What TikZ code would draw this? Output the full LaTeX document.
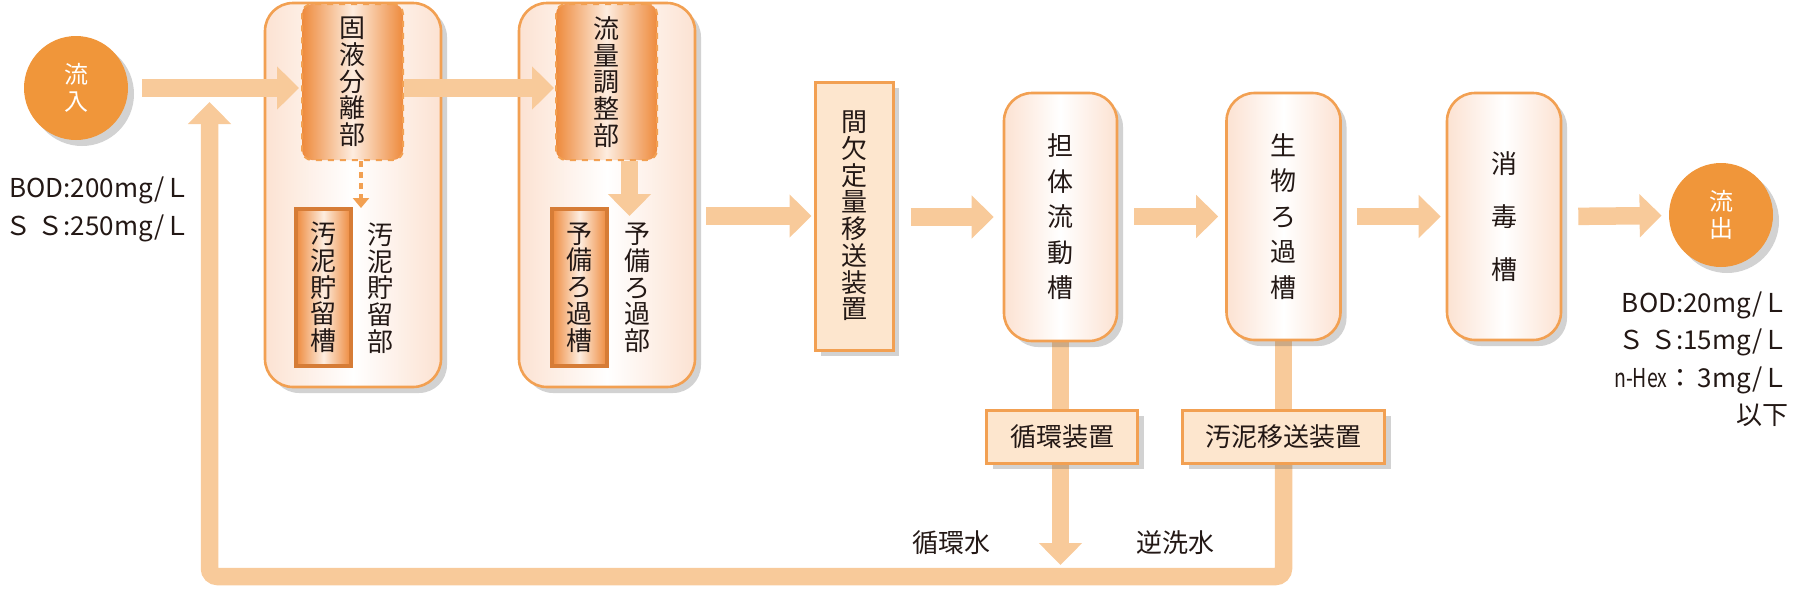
\documentclass[tikz,border=0pt]{standalone}
\usepackage{fontspec}
\setmainfont{Noto Sans CJK JP}
\usepackage{tikz}
\usetikzlibrary{arrows.meta,shadows,backgrounds}
\definecolor{ink}{HTML}{231815}
\definecolor{portfill}{HTML}{F0963A}
\definecolor{flowc}{HTML}{F8CA9A}
\definecolor{orangeline}{HTML}{F2A052}
\definecolor{deep}{HTML}{EE8A3C}
\definecolor{pale}{HTML}{FDEDE0}
\definecolor{peach}{HTML}{FCE2D2}
\definecolor{flat}{HTML}{FDE6CE}
\newcommand{\tightfont}{\fontsize{13pt}{13.35pt}\selectfont}
\newcommand{\widefont}{\fontsize{13pt}{17.75pt}\selectfont}
\tikzset{
  softshadow/.style={drop shadow={opacity=0.25, fill=black!70, shadow xshift=3pt, shadow yshift=-3pt}},
  tankbox/.style={draw=orangeline, line width=1.3pt, rounded corners=14pt,
    left color=peach, right color=peach, middle color=white,
    softshadow, inner sep=0pt, align=center, text=ink, font=\widefont},
  unitbox/.style={draw=orangeline, line width=1pt, dashed, rounded corners=5pt,
    left color=deep, right color=deep, middle color=pale,
    minimum width=50.5pt, minimum height=78pt, inner sep=0pt, align=center, text=ink, font=\tightfont},
  cellbox/.style={draw=deep!90!black, line width=2pt,
    left color=deep, right color=deep, middle color=pale,
    minimum width=27.5pt, minimum height=78.5pt, inner sep=0pt, align=center, text=ink, font=\tightfont},
  tagtext/.style={inner sep=0pt, align=center, text=ink, font=\tightfont},
  devbox/.style={draw=orangeline, line width=1.5pt, fill=flat, softshadow,
    inner sep=0pt, align=center, text=ink, font=\tightfont},
  portnode/.style={circle, fill=portfill, softshadow, minimum size=52pt, inner sep=0pt,
    align=center, text=white, font=\fontsize{12pt}{13.5pt}\selectfont},
  notetext/.style={inner sep=0pt, text=ink, align=right},
  pipe/.style={draw=flowc, line width=8.75pt},
  flowarrow/.style={pipe, -{Triangle[width=21pt,length=11pt]}},
  dotarrow/.style={draw=orangeline, line width=1.6pt, dash pattern=on 3pt off 2.5pt,
    -{Triangle[width=8pt,length=5pt]}}
}

\begin{document}
\begin{tikzpicture}[x=0.5pt,y=-0.5pt]
  \useasboundingbox (0,0) rectangle (1800,590);

  \coordinate (retin) at (209.5,102);
  \coordinate (bottom) at (0,576.5);
  \coordinate (sludgetop) at (361,208);
  \coordinate (pretop) at (629.5,216);

  % inflow, outflow
  \node[portnode] (in) at (76,88) {流\\入};
  \node[portnode] (out) at (1721,215) {流\\出};

  % first unit
  \node[tankbox, minimum width=88pt, minimum height=192pt] (box1) at (353,195) {};
  \node[unitbox] (sep) at (352.5,82) {固\\液\\分\\離\\部};
  \node[cellbox] (sludge) at (323.5,287.5) {汚\\泥\\貯\\留\\槽};
  \node[tagtext] (sludgelbl) at (380,288) {汚\\泥\\貯\\留\\部};
  \draw[dotarrow] (sludgetop |- sep.south) -- (sludgetop);

  % second unit
  \node[tankbox, minimum width=88pt, minimum height=192pt] (box2) at (607,195) {};
  \node[unitbox] (flow) at (606.5,82) {流\\量\\調\\整\\部};
  \node[cellbox] (pre) at (579.5,287.5) {予\\備\\ろ\\過\\槽};
  \node[tagtext] (prelbl) at (637,288) {予\\備\\ろ\\過\\部};
  \draw[flowarrow] (pretop |- flow.south) -- (pretop);

  \node[devbox, minimum width=39pt, minimum height=134pt] (pump) at (854,216) {間\\欠\\定\\量\\移\\送\\装\\置};
  \node[tankbox, minimum width=56.5pt, minimum height=124pt] (carrier) at (1060.5,217) {担\\体\\流\\動\\槽};
  \node[tankbox, minimum width=57pt, minimum height=123.5pt] (bio) at (1283.5,216.5) {生\\物\\ろ\\過\\槽};
  \node[tankbox, minimum width=57pt, minimum height=123.5pt, font=\fontsize{13pt}{26.5pt}\selectfont] (dis) at (1504,216.5) {消\\毒\\槽};
  \node[devbox, minimum width=75.5pt, minimum height=26.5pt] (circ) at (1062,436.5) {循環装置};
  \node[devbox, minimum width=101pt, minimum height=26.5pt] (trans) at (1283.5,436.5) {汚泥移送装置};

  % return lines, behind the boxes
  \begin{scope}[on background layer]
    \draw[pipe] (carrier.south) -- (circ.north -| carrier);
    \draw[flowarrow, shorten >=5.75pt] (circ.south -| carrier) -- (carrier |- bottom);
    \draw[pipe] (bio.south) -- (trans.north -| bio);
    \draw[flowarrow, rounded corners=4pt] (trans.south -| bio) -- (bio |- bottom) -- (retin |- bottom) -- (retin);
  \end{scope}

  % main flow
  \draw[flowarrow, shorten <=7pt, shorten >=1pt] (in) -- (sep.west |- in);
  \draw[flowarrow, shorten >=0.5pt] (sep.east |- in) -- (flow.west |- in);
  \draw[flowarrow, shorten <=5pt, shorten >=1pt] (box2.east |- pump) -- (pump.west);
  \draw[flowarrow, shorten <=8pt, shorten >=4.5pt] (pump.east |- carrier) -- (carrier.west);
  \draw[flowarrow, shorten <=8pt, shorten >=3.5pt] (carrier.east |- bio) -- (bio.west);
  \draw[flowarrow, shorten <=7.5pt, shorten >=2.5pt] (bio.east) -- (dis.west);
  \draw[flowarrow, shorten <=8pt, shorten >=3.5pt] (dis.east) -- (out);

  % labels
  \node[notetext, font=\tightfont] (recirc) at (951,543) {循環水};
  \node[notetext, font=\tightfont] (backwash) at (1175,543) {逆洗水};
  \node[notetext, anchor=east, font=\fontsize{13pt}{19pt}\selectfont] (inq) at (191,209)
    {BOD:200mg/Ｌ\\Ｓ Ｓ:250mg/Ｌ};
  \node[notetext, anchor=east, font=\fontsize{13pt}{18.75pt}\selectfont] (outq) at (1789,359)
    {BOD:20mg/Ｌ\\Ｓ Ｓ:15mg/Ｌ\\\scalebox{0.75}[1]{n-Hex}：\,3mg/Ｌ\\以下};
\end{tikzpicture}
\end{document}
